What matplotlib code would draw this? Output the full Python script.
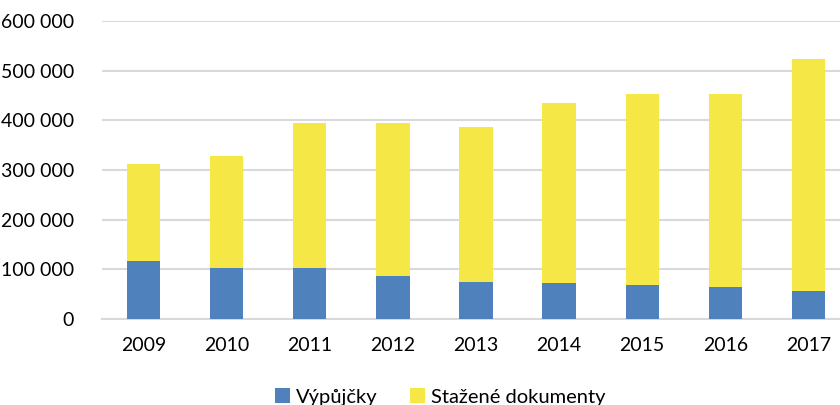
import matplotlib.pyplot as plt
import numpy as np

years = ['2009', '2010', '2011', '2012', '2013', '2014', '2015', '2016', '2017']
vypujcky = [117000, 102000, 102000, 87000, 75000, 72500, 68500, 64500, 57000]
celkem = [313000, 328000, 395000, 395000, 387000, 435000, 453000, 453000, 524000]
stazene = [c - v for c, v in zip(celkem, vypujcky)]

blue = '#4f81bd'
yellow = '#f5e846'
grid = '#d9d9d9'

plt.rcParams['font.family'] = ['Lato', 'DejaVu Sans']

fig = plt.figure(figsize=(8.4, 4.05), dpi=100)
ax = fig.add_axes([102/840, (405-319)/405, 748/840, 298/405])

x = np.arange(len(years))
ax.bar(x, vypujcky, width=0.4, color=blue, label='Výpůjčky', zorder=3)
ax.bar(x, stazene, width=0.4, bottom=vypujcky, color=yellow, label='Stažené dokumenty', zorder=3)

ax.set_xlim(-0.5, len(years) - 0.5)
ax.set_ylim(0, 600000)
ax.set_yticks(range(0, 600001, 100000))
ax.set_yticklabels(['0' if v == 0 else f'{v // 1000} 000' for v in range(0, 600001, 100000)])
ax.set_xticks(x)
ax.set_xticklabels(years)
ax.yaxis.grid(True, color=grid, linewidth=1.5, zorder=0)
ax.set_axisbelow(True)
for s in ['top', 'right', 'left']:
    ax.spines[s].set_visible(False)
ax.spines['bottom'].set_color(grid)
ax.spines['bottom'].set_linewidth(1.5)
ax.tick_params(axis='both', length=0, labelsize=14, colors='#000000')
ax.tick_params(axis='y', pad=20)
ax.tick_params(axis='x', pad=13)

fig.legend(loc='center', bbox_to_anchor=(440/840, 1 - 397/405), ncol=2, frameon=False,
           fontsize=14.5, handlelength=0.75, handleheight=0.75, handletextpad=0.3, columnspacing=1.6)

fig.savefig('out.png', dpi=100)
